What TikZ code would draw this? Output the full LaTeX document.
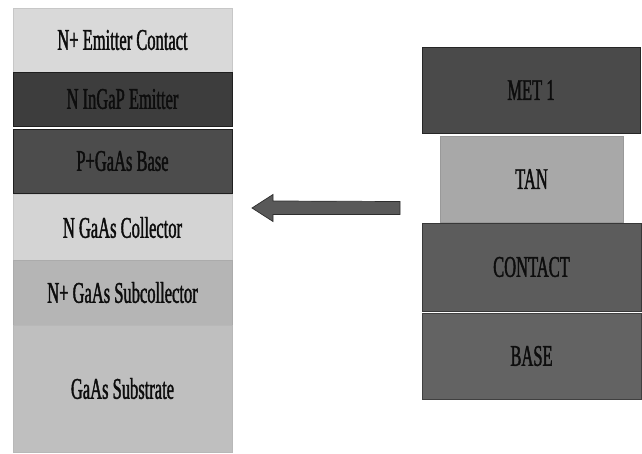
\documentclass[tikz,border=0pt]{standalone}
\usepackage{fontspec}
\setmainfont[FakeStretch=0.55,FakeBold=1.3]{Liberation Serif}
\begin{document}
\begin{tikzpicture}[x=1pt,y=-1pt,
  layer/.style={rectangle, inner sep=0pt, line width=0.7pt,
    font=\fontsize{30}{32}\selectfont, text=black!95},
  block arrow/.style={fill=black!65, draw=black!82, line width=0.7pt, line join=miter}]
  % page frame
  \useasboundingbox (0,0) rectangle (642,454);
  \fill[white] (0,0) rectangle (642,454);

  % epitaxial layer stack of the HBT
  \node[layer, fill=black!15, draw=black!22, minimum width=219pt, minimum height=64pt]  (ec)   at (122.5,40)    {N+ Emitter Contact};
  \node[layer, fill=black!76, draw=black!88, minimum width=219pt, minimum height=54pt]  (em)   at (122.5,99)    {N InGaP Emitter};
  \node[layer, fill=black!70, draw=black!88, minimum width=219pt, minimum height=64pt]  (bs)   at (122.5,161)   {P+GaAs Base};
  \node[layer, fill=black!17, draw=black!22, minimum width=219pt, minimum height=66pt]  (col)  at (122.5,227.5) {N GaAs Collector};
  \node[layer, fill=black!29, draw=black!33, minimum width=219pt, minimum height=65pt]  (scol) at (122.5,292.5) {N+ GaAs Subcollector};
  \node[layer, fill=black!25, draw=black!28, minimum width=219pt, minimum height=127pt] (sub)  at (122.5,388.5) {GaAs Substrate};

  % process layer stack
  \node[layer, fill=black!71, draw=black!85, minimum width=218pt, minimum height=86pt] (met)  at (531,90)   {MET 1};
  \node[layer, fill=black!34, draw=black!40, minimum width=183pt, minimum height=86pt] (tan)  at (531.5,179) {TAN};
  \node[layer, fill=black!64, draw=black!78, minimum width=219pt, minimum height=88pt] (cnt)  at (531.5,267) {CONTACT};
  \node[layer, fill=black!61, draw=black!75, minimum width=219pt, minimum height=86pt] (base) at (531.5,356) {BASE};

  % block arrow pointing from the process stack to the layer stack
  \coordinate (tail) at (400,208);
  \coordinate (tip)  at (252,208);
  \draw[block arrow] (tip) -- ++(21,-13.5) -- ++(0,6.5) -- (tail |- 0,201.5)
    -- (tail |- 0,214.5) -- (273,214.5) -- (273,221.5) -- cycle;
\end{tikzpicture}
\end{document}
